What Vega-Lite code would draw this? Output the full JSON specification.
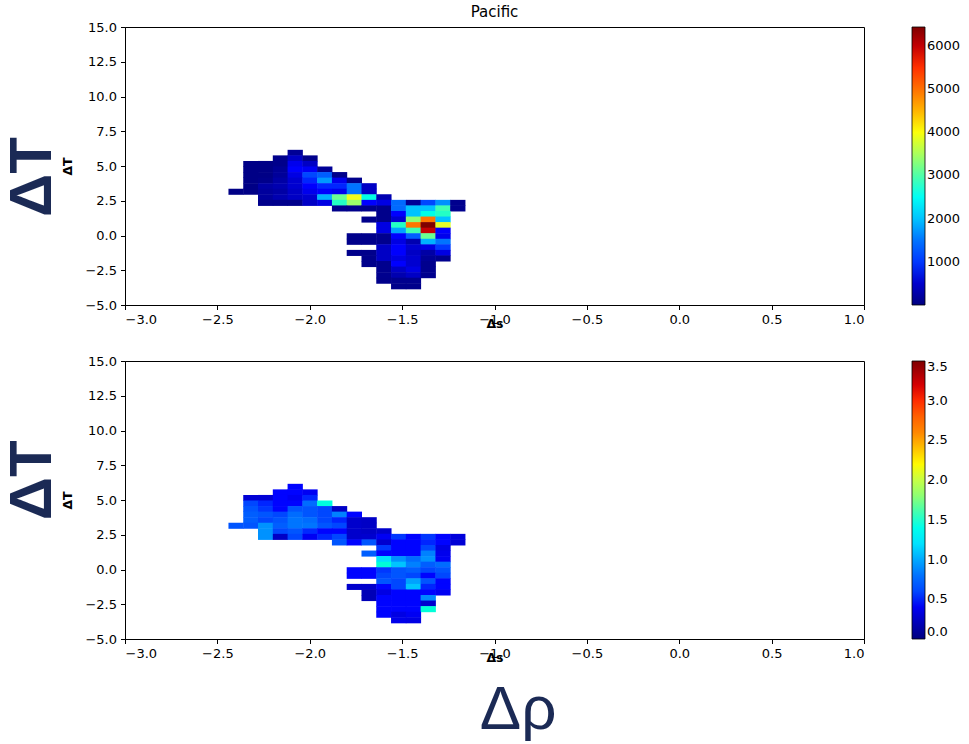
{
"$schema": "https://vega.github.io/schema/vega-lite/v6.json",
"background": "white",
"padding": {"left": 3, "top": 4, "right": 5, "bottom": 0},
"autosize": {"type": "pad"},
"config": {
  "font": "DejaVu Sans",
  "view": {"stroke": "black", "strokeWidth": 1},
  "rect": {"binSpacing": 0},
  "axis": {"grid": false, "domainColor": "black", "tickColor": "black", "labelColor": "black", "labelFont": "DejaVu Sans", "labelFontSize": 13, "tickSize": 4.5, "labelPadding": 4, "titleFont": "DejaVu Sans", "titleFontSize": 12.5, "titleFontWeight": "bold", "titleColor": "black"},
  "legend": {"gradientLength": 278, "gradientThickness": 13, "offset": 47, "padding": 0, "labelFont": "DejaVu Sans", "labelFontSize": 13, "labelColor": "black", "labelOffset": 8, "gradientStrokeColor": "black", "gradientStrokeWidth": 0.8, "labelOverlap": false, "labelBaseline": "middle"}
},
"datasets": {"cells": [
{"s":-2.12,"t":5.8,"n":150,"r":0.44},
{"s":-2.2,"t":5.4,"n":80,"r":0.44},{"s":-2.12,"t":5.4,"n":450,"r":0.44},{"s":-2.04,"t":5.4,"n":80,"r":0.4},
{"s":-2.36,"t":5,"n":50,"r":0.3},{"s":-2.28,"t":5,"n":50,"r":0.3},{"s":-2.2,"t":5,"n":80,"r":0.44},{"s":-2.12,"t":5,"n":700,"r":0.4},{"s":-2.04,"t":5,"n":450,"r":0.49},
{"s":-2.36,"t":4.6,"n":50,"r":0.6},{"s":-2.28,"t":4.6,"n":50,"r":0.49},{"s":-2.2,"t":4.6,"n":150,"r":0.44},{"s":-2.12,"t":4.6,"n":800,"r":0.44},{"s":-2.04,"t":4.6,"n":750,"r":0.77},{"s":-1.96,"t":4.6,"n":150,"r":1.45},
{"s":-2.36,"t":4.2,"n":50,"r":0.66},{"s":-2.28,"t":4.2,"n":50,"r":0.54},{"s":-2.2,"t":4.2,"n":180,"r":0.44},{"s":-2.12,"t":4.2,"n":640,"r":0.66},{"s":-2.04,"t":4.2,"n":1100,"r":0.66},{"s":-1.96,"t":4.2,"n":1290,"r":0.6},{"s":-1.88,"t":4.2,"n":80,"r":0.25},
{"s":-2.36,"t":3.8,"n":50,"r":0.7},{"s":-2.28,"t":3.8,"n":80,"r":0.66},{"s":-2.2,"t":3.8,"n":250,"r":0.6},{"s":-2.12,"t":3.8,"n":520,"r":0.77},{"s":-2.04,"t":3.8,"n":900,"r":0.66},{"s":-1.96,"t":3.8,"n":1750,"r":0.6},{"s":-1.88,"t":3.8,"n":700,"r":0.88},{"s":-1.8,"t":3.8,"n":80,"r":0.44},
{"s":-2.36,"t":3.4,"n":50,"r":0.7},{"s":-2.28,"t":3.4,"n":250,"r":0.6},{"s":-2.2,"t":3.4,"n":320,"r":0.66},{"s":-2.12,"t":3.4,"n":520,"r":0.82},{"s":-2.04,"t":3.4,"n":800,"r":0.77},{"s":-1.96,"t":3.4,"n":900,"r":0.6},{"s":-1.88,"t":3.4,"n":900,"r":0.49},{"s":-1.8,"t":3.4,"n":1500,"r":0.27},{"s":-1.72,"t":3.4,"n":450,"r":0.25},
{"s":-2.44,"t":3,"n":50,"r":0.66},{"s":-2.36,"t":3,"n":50,"r":0.66},{"s":-2.28,"t":3,"n":200,"r":0.93},{"s":-2.2,"t":3,"n":250,"r":0.7},{"s":-2.12,"t":3,"n":450,"r":0.82},{"s":-2.04,"t":3,"n":700,"r":0.82},{"s":-1.96,"t":3,"n":800,"r":0.66},{"s":-1.88,"t":3,"n":700,"r":0.6},{"s":-1.8,"t":3,"n":1500,"r":0.27},{"s":-1.72,"t":3,"n":450,"r":0.25},
{"s":-2.28,"t":2.6,"n":200,"r":0.93},{"s":-2.2,"t":2.6,"n":320,"r":0.6},{"s":-2.12,"t":2.6,"n":450,"r":0.66},{"s":-2.04,"t":2.6,"n":520,"r":0.5},{"s":-1.96,"t":2.6,"n":1900,"r":0.44},{"s":-1.88,"t":2.6,"n":3120,"r":0.44},{"s":-1.8,"t":2.6,"n":3930,"r":0.27},{"s":-1.72,"t":2.6,"n":2620,"r":0.25},{"s":-1.64,"t":2.6,"n":320,"r":0.27},
{"s":-2.28,"t":2.2,"n":80,"r":0.93},{"s":-2.2,"t":2.2,"n":80,"r":0.25},{"s":-2.12,"t":2.2,"n":80,"r":0.6},{"s":-2.04,"t":2.2,"n":450,"r":0.4},{"s":-1.96,"t":2.2,"n":640,"r":0.49},{"s":-1.88,"t":2.2,"n":2830,"r":0.6},{"s":-1.8,"t":2.2,"n":3410,"r":0.27},{"s":-1.72,"t":2.2,"n":800,"r":0.28},{"s":-1.64,"t":2.2,"n":640,"r":0.4},{"s":-1.56,"t":2.2,"n":1400,"r":0.54},{"s":-1.48,"t":2.2,"n":150,"r":0.44},{"s":-1.4,"t":2.2,"n":1100,"r":0.54},{"s":-1.32,"t":2.2,"n":1700,"r":0.44},{"s":-1.24,"t":2.2,"n":100,"r":0.32},
{"s":-1.88,"t":1.8,"n":80,"r":0.66},{"s":-1.8,"t":1.8,"n":80,"r":0.44},{"s":-1.72,"t":1.8,"n":80,"r":0.66},{"s":-1.64,"t":1.8,"n":80,"r":0.28},{"s":-1.56,"t":1.8,"n":1400,"r":0.44},{"s":-1.48,"t":1.8,"n":2000,"r":0.44},{"s":-1.4,"t":1.8,"n":2000,"r":0.49},{"s":-1.32,"t":1.8,"n":2930,"r":0.44},{"s":-1.24,"t":1.8,"n":100,"r":0.3},
{"s":-1.64,"t":1.4,"n":80,"r":0.54},{"s":-1.56,"t":1.4,"n":800,"r":0.44},{"s":-1.48,"t":1.4,"n":2000,"r":0.44},{"s":-1.4,"t":1.4,"n":2620,"r":0.6},{"s":-1.32,"t":1.4,"n":2830,"r":0.35},
{"s":-1.72,"t":1,"n":80,"r":0.7},{"s":-1.64,"t":1,"n":80,"r":0.44},{"s":-1.56,"t":1,"n":520,"r":0.44},{"s":-1.48,"t":1,"n":3320,"r":0.44},{"s":-1.4,"t":1,"n":4930,"r":0.88},{"s":-1.32,"t":1,"n":2000,"r":0.38},
{"s":-1.64,"t":0.6,"n":640,"r":1.2},{"s":-1.56,"t":0.6,"n":2830,"r":0.93},{"s":-1.48,"t":0.6,"n":4930,"r":0.77},{"s":-1.4,"t":0.6,"n":6440,"r":0.93},{"s":-1.32,"t":0.6,"n":3860,"r":0.4},
{"s":-1.64,"t":0.2,"n":640,"r":1.47},{"s":-1.56,"t":0.2,"n":1800,"r":1.09},{"s":-1.48,"t":0.2,"n":2930,"r":0.88},{"s":-1.4,"t":0.2,"n":5990,"r":0.7},{"s":-1.32,"t":0.2,"n":800,"r":0.77},
{"s":-1.8,"t":-0.2,"n":80,"r":0.44},{"s":-1.72,"t":-0.2,"n":80,"r":0.44},{"s":-1.64,"t":-0.2,"n":100,"r":0.54},{"s":-1.56,"t":-0.2,"n":800,"r":0.66},{"s":-1.48,"t":-0.2,"n":1290,"r":0.7},{"s":-1.4,"t":-0.2,"n":3120,"r":0.6},{"s":-1.32,"t":-0.2,"n":700,"r":0.66},
{"s":-1.8,"t":-0.6,"n":80,"r":0.44},{"s":-1.72,"t":-0.6,"n":80,"r":0.44},{"s":-1.64,"t":-0.6,"n":100,"r":0.6},{"s":-1.56,"t":-0.6,"n":640,"r":0.66},{"s":-1.48,"t":-0.6,"n":320,"r":0.6},{"s":-1.4,"t":-0.6,"n":1900,"r":0.44},{"s":-1.32,"t":-0.6,"n":1500,"r":0.6},
{"s":-1.64,"t":-1,"n":450,"r":0.66},{"s":-1.56,"t":-1,"n":800,"r":0.6},{"s":-1.48,"t":-1,"n":520,"r":0.98},{"s":-1.4,"t":-1,"n":640,"r":0.66},{"s":-1.32,"t":-1,"n":1000,"r":0.44},
{"s":-1.8,"t":-1.4,"n":80,"r":0.27},{"s":-1.72,"t":-1.4,"n":80,"r":0.27},{"s":-1.64,"t":-1.4,"n":450,"r":0.44},{"s":-1.56,"t":-1.4,"n":800,"r":0.6},{"s":-1.48,"t":-1.4,"n":450,"r":1.09},{"s":-1.4,"t":-1.4,"n":250,"r":0.49},{"s":-1.32,"t":-1.4,"n":640,"r":0.44},
{"s":-1.72,"t":-1.8,"n":80,"r":0.2},{"s":-1.64,"t":-1.8,"n":450,"r":0.35},{"s":-1.56,"t":-1.8,"n":640,"r":0.44},{"s":-1.48,"t":-1.8,"n":520,"r":0.44},{"s":-1.4,"t":-1.8,"n":150,"r":0.44},{"s":-1.32,"t":-1.8,"n":100,"r":0.4},
{"s":-1.72,"t":-2.2,"n":80,"r":0.2},{"s":-1.64,"t":-2.2,"n":100,"r":0.44},{"s":-1.56,"t":-2.2,"n":800,"r":0.44},{"s":-1.48,"t":-2.2,"n":520,"r":0.44},{"s":-1.4,"t":-2.2,"n":100,"r":0.9},
{"s":-1.64,"t":-2.6,"n":100,"r":0.44},{"s":-1.56,"t":-2.6,"n":450,"r":0.44},{"s":-1.48,"t":-2.6,"n":640,"r":0.44},{"s":-1.4,"t":-2.6,"n":100,"r":0.28},
{"s":-1.64,"t":-3,"n":100,"r":0.44},{"s":-1.56,"t":-3,"n":320,"r":0.44},{"s":-1.48,"t":-3,"n":450,"r":0.44},{"s":-1.4,"t":-3,"n":100,"r":1.47},
{"s":-1.64,"t":-3.4,"n":80,"r":0.44},{"s":-1.56,"t":-3.4,"n":100,"r":0.35},{"s":-1.48,"t":-3.4,"n":100,"r":0.4},
{"s":-1.56,"t":-3.8,"n":80,"r":0.37},{"s":-1.48,"t":-3.8,"n":80,"r":0.35}
]},
"title": {"text": "Δρ", "orient": "bottom", "anchor": "middle", "font": "Liberation Sans", "fontSize": 62, "fontWeight": "normal", "color": "#1b2a55", "offset": 16, "dx": 36},
"spacing": 24,
"resolve": {"scale": {"color": "independent"}, "legend": {"color": "independent"}},
"vconcat": [
  {
    "title": {"text": "ΔT", "orient": "left", "anchor": "middle", "font": "Liberation Sans", "fontSize": 60, "fontWeight": "bold", "color": "#1b2a55", "offset": -3, "dx": -10},
    "vconcat": [
      {
        "width": 739, "height": 278,
        "title": {"text": "Pacific", "font": "DejaVu Sans", "fontSize": 15, "fontWeight": "normal", "color": "black", "frame": "group", "anchor": "middle", "offset": 1.5},
        "data": {"name": "cells"},
        "mark": {"type": "rect", "x2Offset": -0.5, "y2Offset": 0.5},
        "encoding": {
          "x": {"field": "s", "type": "quantitative", "bin": {"binned": true, "step": 0.08}, "scale": {"domain": [-3, 1], "nice": false, "zero": false}, "axis": {"title": "Δs", "values": [-3, -2.5, -2, -1.5, -1, -0.5, 0, 0.5, 1], "format": ".1f", "titlePadding": -9.5}},
          "y": {"field": "t", "type": "quantitative", "bin": {"binned": true, "step": 0.4}, "scale": {"domain": [-5, 15], "nice": false, "zero": false}, "axis": {"title": "ΔT", "values": [-5, -2.5, 0, 2.5, 5, 7.5, 10, 12.5, 15], "format": ".1f", "titlePadding": 10}},
          "color": {"field": "n", "type": "quantitative", "scale": {"domain": [0, 6440], "range": ["#00007f", "#0000ff", "#007fff", "#00ffff", "#7fff7f", "#ffff00", "#ff7f00", "#ff0000", "#7f0000"]}, "legend": {"title": null, "type": "gradient", "values": [1000, 2000, 3000, 4000, 5000, 6000], "format": "d", "labelBaseline": "middle"}}
        }
      }
    ]
  },
  {
    "title": {"text": "ΔT", "orient": "left", "anchor": "middle", "font": "Liberation Sans", "fontSize": 60, "fontWeight": "bold", "color": "#1b2a55", "offset": -3, "dx": 29},
    "vconcat": [
      {
        "width": 739, "height": 278,
        "data": {"name": "cells"},
        "mark": {"type": "rect", "x2Offset": -0.5, "y2Offset": 0.5},
        "encoding": {
          "x": {"field": "s", "type": "quantitative", "bin": {"binned": true, "step": 0.08}, "scale": {"domain": [-3, 1], "nice": false, "zero": false}, "axis": {"title": "Δs", "values": [-3, -2.5, -2, -1.5, -1, -0.5, 0, 0.5, 1], "format": ".1f", "titlePadding": -9.5}},
          "y": {"field": "t", "type": "quantitative", "bin": {"binned": true, "step": 0.4}, "scale": {"domain": [-5, 15], "nice": false, "zero": false}, "axis": {"title": "ΔT", "values": [-5, -2.5, 0, 2.5, 5, 7.5, 10, 12.5, 15], "format": ".1f", "titlePadding": 10}},
          "color": {"field": "r", "type": "quantitative", "scale": {"domain": [0, 3.5], "range": ["#00007f", "#0000ff", "#007fff", "#00ffff", "#7fff7f", "#ffff00", "#ff7f00", "#ff0000", "#7f0000"]}, "legend": {"title": null, "type": "gradient", "values": [0, 0.5, 1, 1.5, 2, 2.5, 3, 3.5], "format": ".1f", "labelBaseline": "middle"}}
        }
      }
    ]
  }
]
}
